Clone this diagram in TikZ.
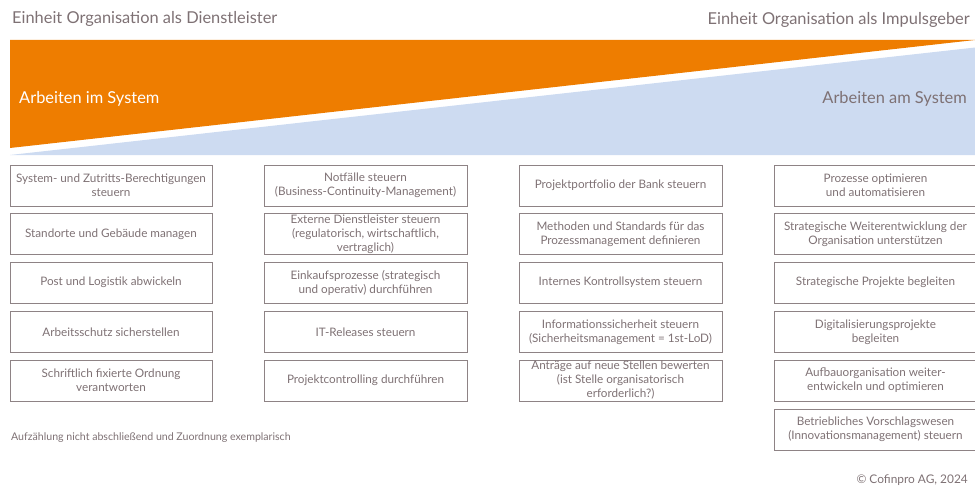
\documentclass[tikz,border=0pt]{standalone}
\usepackage{fontspec}
\setmainfont{Lato}
\definecolor{cporange}{HTML}{EE7D00}
\definecolor{cpblue}{HTML}{CDDBF1}
\definecolor{cptext}{HTML}{7E7174}
\definecolor{cpline}{HTML}{8E8385}
\tikzset{
  task/.style={draw=cpline, line width=0.9pt, text=cptext, align=center,
    inner sep=0pt, minimum height=41pt,
    font=\fontsize{11.7}{14}\selectfont},
  colA/.style={task, minimum width=202pt},
  colB/.style={task, minimum width=203pt},
  heading/.style={text=cptext, inner sep=0pt, font=\fontsize{16.4}{18}\selectfont},
  note/.style={text=cptext, inner sep=0pt, font=\fontsize{10.6}{12}\selectfont}
}
\begin{document}
\begin{tikzpicture}[x=1pt,y=-1pt]
\useasboundingbox (0,0) rectangle (975,487);
\clip (0,0) rectangle (975,487);

% wedges: working in the system vs. on the system
\fill[cporange] (10,40) -- (975,40) -- (10,148) -- cycle;
\fill[cpblue] (10,155) -- (975,47.5) -- (975,155) -- cycle;

\node[heading, anchor=west] (hdl) at (12,18.5) {Einheit Organisation als Dienstleister};
\node[heading, anchor=east] (hdr) at (970,20) {Einheit Organisation als Impulsgeber};
\node[heading, anchor=west, text=white] (ims) at (19,99) {Arbeiten im System};
\node[heading, anchor=east] (ams) at (967,99) {Arbeiten am System};

% column 1
\node[colA] (a1) at (111,185.5) {System- und Zutritts-Berechtigungen\\steuern};
\node[colA] (a2) at (111,234) {Standorte und Gebäude managen};
\node[colA] (a3) at (111,282.5) {Post und Logistik abwickeln};
\node[colA] (a4) at (111,332) {Arbeitsschutz sicherstellen};
\node[colA] (a5) at (111,380.5) {Schriftlich fixierte Ordnung\\verantworten};

% column 2
\node[colB] (b1) at (365.5,185.5) {Notfälle steuern\\(Business-Continuity-Management)};
\node[colB] (b2) at (365.5,234) {Externe Dienstleister steuern\\(regulatorisch, wirtschaftlich,\\vertraglich)};
\node[colB] (b3) at (365.5,282.5) {Einkaufsprozesse (strategisch\\und operativ) durchführen};
\node[colB] (b4) at (365.5,332) {IT-Releases steuern};
\node[colB] (b5) at (365.5,380.5) {Projektcontrolling durchführen};

% column 3
\node[colB] (c1) at (620.5,185.5) {Projektportfolio der Bank steuern};
\node[colB] (c2) at (620.5,234) {Methoden und Standards für das\\Prozessmanagement definieren};
\node[colB] (c3) at (620.5,282.5) {Internes Kontrollsystem steuern};
\node[colB] (c4) at (620.5,332) {Informationssicherheit steuern\\(Sicherheitsmanagement = 1st-LoD)};
\node[colB] (c5) at (620.5,380.5) {Anträge auf neue Stellen bewerten\\(ist Stelle organisatorisch\\erforderlich?)};

% column 4
\node[colB] (d1) at (875.5,185.5) {Prozesse optimieren\\und automatisieren};
\node[colB] (d2) at (875.5,234) {Strategische Weiterentwicklung der\\Organisation unterstützen};
\node[colB] (d3) at (875.5,282.5) {Strategische Projekte begleiten};
\node[colB] (d4) at (875.5,332) {Digitalisierungsprojekte\\begleiten};
\node[colB] (d5) at (875.5,380.5) {Aufbauorganisation weiter-\\entwickeln und optimieren};
\node[colB] (d6) at (875.5,429.5) {Betriebliches Vorschlagswesen\\(Innovationsmanagement) steuern};

\node[note, anchor=west] (fn) at (11,437.5) {Aufzählung nicht abschließend und Zuordnung exemplarisch};
\node[note, anchor=east, font=\fontsize{11.9}{13}\selectfont] (cr) at (968,480.5) {© Cofinpro AG, 2024};
\end{tikzpicture}
\end{document}
